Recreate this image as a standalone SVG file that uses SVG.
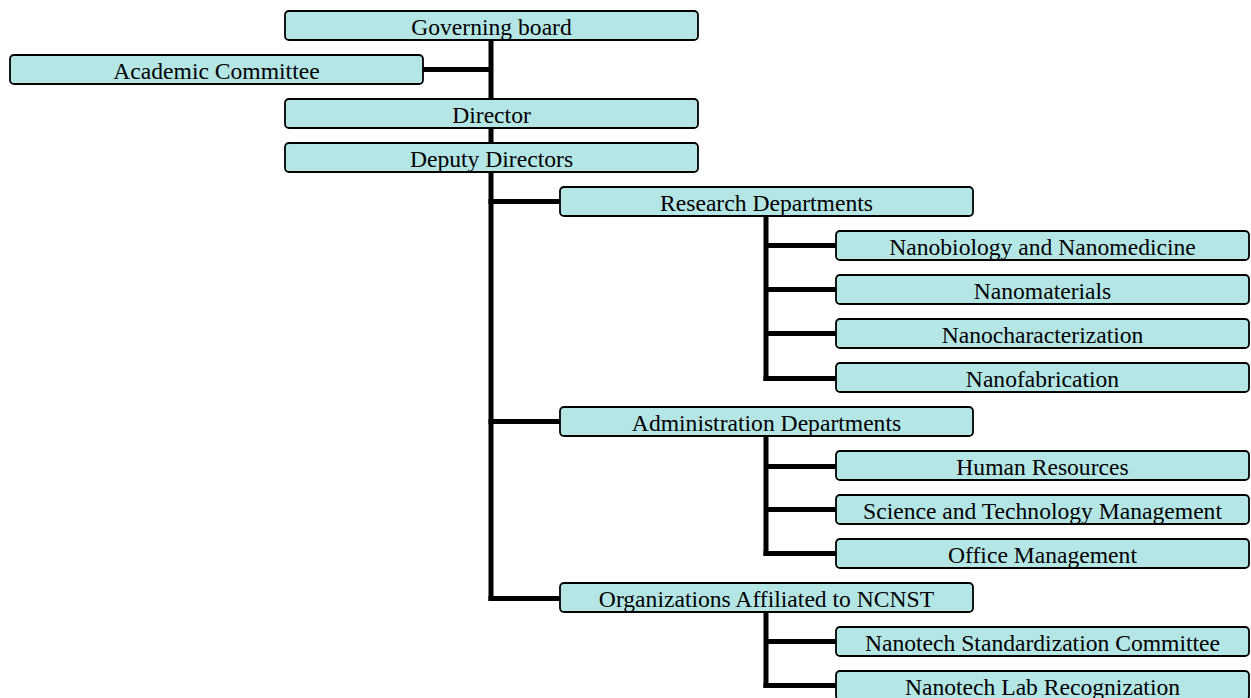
<svg xmlns="http://www.w3.org/2000/svg" width="1251" height="698" viewBox="0 0 1251 698">
<style>
.box{fill:#b4e6e6;stroke:#000;stroke-width:1.8}
.lbl{font-family:"Liberation Serif","Times New Roman",serif;font-size:23.6px;fill:#000;text-anchor:middle}
.ln{stroke:#000;stroke-width:5;fill:none}
</style>
<rect width="1251" height="698" fill="#fff"/>
<g id="connectors">
<line class="ln" x1="491" y1="40" x2="491" y2="601"/>
<line class="ln" x1="423" y1="69.5" x2="491" y2="69.5"/>
<line class="ln" x1="488.5" y1="201.5" x2="560" y2="201.5"/>
<line class="ln" x1="488.5" y1="421.5" x2="560" y2="421.5"/>
<line class="ln" x1="488.5" y1="598.5" x2="560" y2="598.5"/>
<line class="ln" x1="766" y1="216" x2="766" y2="381"/>
<line class="ln" x1="766" y1="245.5" x2="836" y2="245.5"/>
<line class="ln" x1="766" y1="289.5" x2="836" y2="289.5"/>
<line class="ln" x1="766" y1="333.5" x2="836" y2="333.5"/>
<line class="ln" x1="763.5" y1="378.5" x2="836" y2="378.5"/>
<line class="ln" x1="766" y1="436" x2="766" y2="556"/>
<line class="ln" x1="766" y1="466.5" x2="836" y2="466.5"/>
<line class="ln" x1="766" y1="509.5" x2="836" y2="509.5"/>
<line class="ln" x1="763.5" y1="553.5" x2="836" y2="553.5"/>
<line class="ln" x1="766" y1="612" x2="766" y2="688"/>
<line class="ln" x1="766" y1="641.5" x2="836" y2="641.5"/>
<line class="ln" x1="763.5" y1="685.5" x2="836" y2="685.5"/>
</g>
<g id="governing-board"><rect class="box" x="285" y="11" width="413" height="29" rx="4"/><text class="lbl" x="491.5" y="35">Governing board</text></g>
<g id="academic-committee"><rect class="box" x="10" y="55" width="413" height="29" rx="4"/><text class="lbl" x="216.5" y="79">Academic Committee</text></g>
<g id="director"><rect class="box" x="285" y="99" width="413" height="29" rx="4"/><text class="lbl" x="491.5" y="123">Director</text></g>
<g id="deputy-directors"><rect class="box" x="285" y="143" width="413" height="29" rx="4"/><text class="lbl" x="491.5" y="167">Deputy Directors</text></g>
<g id="research-departments"><rect class="box" x="560" y="187" width="413" height="29" rx="4"/><text class="lbl" x="766.5" y="211">Research Departments</text></g>
<g id="nanobiology"><rect class="box" x="836" y="231" width="413" height="29" rx="4"/><text class="lbl" x="1042.5" y="255">Nanobiology and Nanomedicine</text></g>
<g id="nanomaterials"><rect class="box" x="836" y="275" width="413" height="29" rx="4"/><text class="lbl" x="1042.5" y="299">Nanomaterials</text></g>
<g id="nanocharacterization"><rect class="box" x="836" y="319" width="413" height="29" rx="4"/><text class="lbl" x="1042.5" y="343">Nanocharacterization</text></g>
<g id="nanofabrication"><rect class="box" x="836" y="363" width="413" height="29" rx="4"/><text class="lbl" x="1042.5" y="387">Nanofabrication</text></g>
<g id="administration-departments"><rect class="box" x="560" y="407" width="413" height="29" rx="4"/><text class="lbl" x="766.5" y="431">Administration Departments</text></g>
<g id="human-resources"><rect class="box" x="836" y="451" width="413" height="29" rx="4"/><text class="lbl" x="1042.5" y="475">Human Resources</text></g>
<g id="science-technology-management"><rect class="box" x="836" y="495" width="413" height="29" rx="4"/><text class="lbl" x="1042.5" y="519">Science and Technology Management</text></g>
<g id="office-management"><rect class="box" x="836" y="539" width="413" height="29" rx="4"/><text class="lbl" x="1042.5" y="563">Office Management</text></g>
<g id="organizations-affiliated"><rect class="box" x="560" y="583" width="413" height="29" rx="4"/><text class="lbl" x="766.5" y="607">Organizations Affiliated to NCNST</text></g>
<g id="nanotech-standardization"><rect class="box" x="836" y="627" width="413" height="29" rx="4"/><text class="lbl" x="1042.5" y="651">Nanotech Standardization Committee</text></g>
<g id="nanotech-lab-recognization"><rect class="box" x="836" y="671" width="413" height="29" rx="4"/><text class="lbl" x="1042.5" y="695">Nanotech Lab Recognization</text></g>
</svg>
